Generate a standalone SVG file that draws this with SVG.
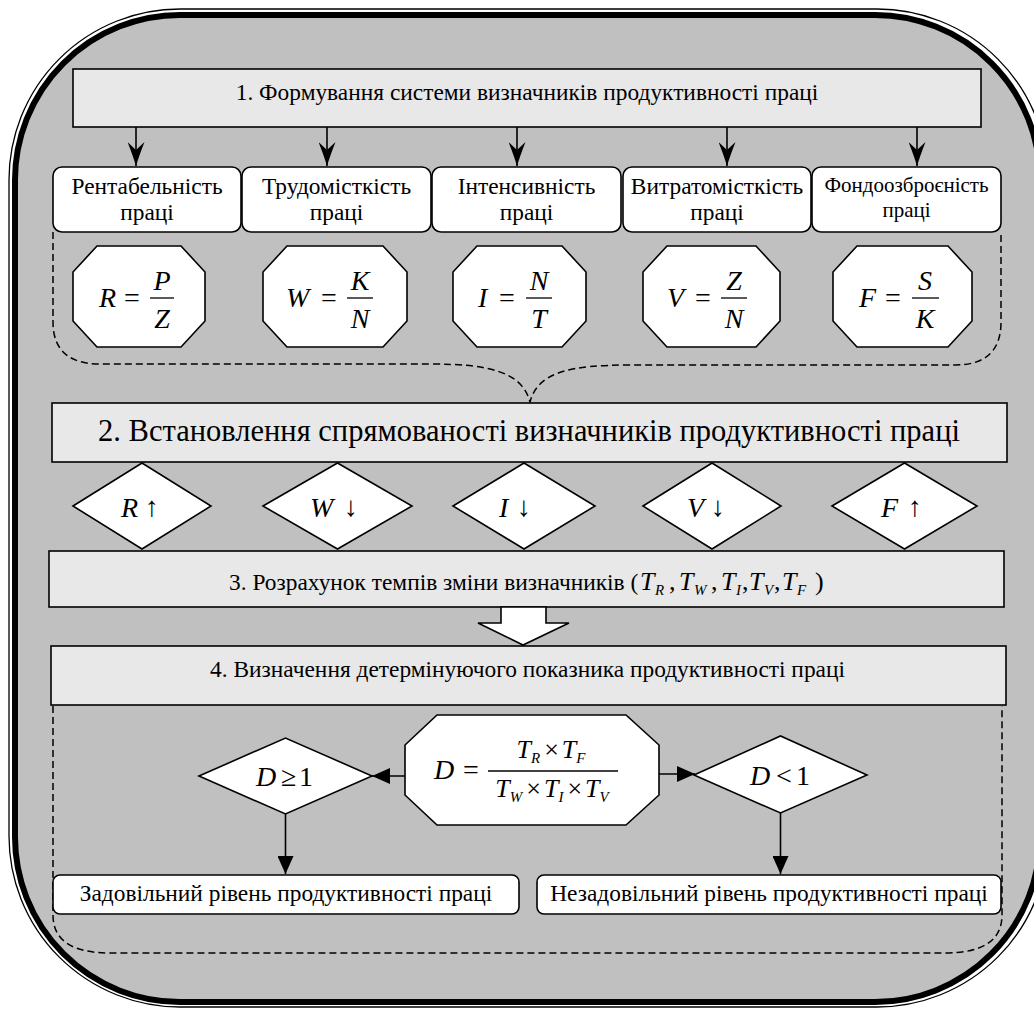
<svg xmlns="http://www.w3.org/2000/svg" width="1034" height="1010" viewBox="0 0 1034 1010">
<defs>
<style>
.s{font-family:'Liberation Serif',Tinos,'Times New Roman','DejaVu Serif',serif;fill:#000}
.ar{font-family:'Liberation Serif','DejaVu Serif','DejaVu Sans',serif;fill:#000}
.it{font-style:italic}
.f23{font-size:23.4px}
.f20{font-size:21px}
.f30{font-size:30.5px}
.f28{font-size:28px}
.f26{font-size:26px}
.f15{font-size:15px}
.box{fill:#e8e8e8;stroke:#000;stroke-width:1.6}
.wb{fill:#fff;stroke:#000;stroke-width:1.6}
.dash{fill:none;stroke:#000;stroke-width:1.5;stroke-dasharray:7 4}
.conn{fill:none;stroke:#000;stroke-width:1.6}
.bar{stroke:#000;stroke-width:1.3}
</style>
<marker id="stealth" viewBox="0 0 24 17" refX="24" refY="8.5" markerWidth="24" markerHeight="17" markerUnits="userSpaceOnUse" orient="auto">
<path d="M0,0 Q14,5.5 24,8.5 Q14,11.5 0,17 L8,8.5 Z" fill="#000"/>
</marker>
<marker id="tri" viewBox="0 0 18 16" refX="18" refY="8" markerWidth="18" markerHeight="16" markerUnits="userSpaceOnUse" orient="auto">
<path d="M0,0 L18,8 L0,16 Z" fill="#000"/>
</marker>
</defs>
<rect x="0" y="0" width="1034" height="1010" fill="#fff"/>
<g id="frame">
<rect x="9" y="9" width="1039" height="998" rx="171" fill="none" stroke="#000" stroke-width="1.3"/>
<rect x="15" y="15" width="1025" height="987" rx="165" fill="#c0c0c0" stroke="#000" stroke-width="6"/>
</g>
<g id="braces">
<path class="dash" d="M53,232 V322 Q53,364 100,364 H430 C490,364 522,372 530,402 C538,372 570,365 630,365 H955 Q1001,365 1001,322 V232"/>
<path class="dash" d="M53,706 V915 Q53,953 110,953 H945 Q1002,953 1002,915 V706"/>
</g>
<g id="step1">
<rect class="box" x="73" y="69" width="908" height="58"/>
<text class="s f23" x="527" y="100" text-anchor="middle">1. Формування системи визначників продуктивності праці</text>
</g>
<g id="box-rent">
<rect class="wb" x="53" y="167" width="188" height="65" rx="9"/>
<text class="s f23" x="147" y="194" text-anchor="middle">Рентабельність</text>
<text class="s f23" x="147" y="220" text-anchor="middle">праці</text>
</g>
<g id="box-trud">
<rect class="wb" x="242" y="167" width="189" height="65" rx="9"/>
<text class="s f23" x="336.5" y="194" text-anchor="middle">Трудомісткість</text>
<text class="s f23" x="336.5" y="220" text-anchor="middle">праці</text>
</g>
<g id="box-int">
<rect class="wb" x="432" y="167" width="189" height="65" rx="9"/>
<text class="s f23" x="526.5" y="194" text-anchor="middle">Інтенсивність</text>
<text class="s f23" x="526.5" y="220" text-anchor="middle">праці</text>
</g>
<g id="box-vytr">
<rect class="wb" x="623" y="167" width="188" height="65" rx="9"/>
<text class="s f23" x="717" y="194" text-anchor="middle">Витратомісткість</text>
<text class="s f23" x="717" y="220" text-anchor="middle">праці</text>
</g>
<g id="box-fond">
<rect class="wb" x="812" y="167" width="189" height="65" rx="9"/>
<text class="s f20" x="906.5" y="192" text-anchor="middle">Фондоозброєність</text>
<text class="s f20" x="906.5" y="217" text-anchor="middle">праці</text>
</g>
<g id="oct-R">
<polygon class="wb" points="97,246 181,246 205,272 205,321 181,347 97,347 73,321 73,272"/>
<text class="s f28 it" x="99" y="307">R</text>
<text class="s f28" x="124" y="307">=</text>
<line class="bar" x1="150" y1="298" x2="174" y2="298"/>
<text class="s f28 it" x="162" y="290" text-anchor="middle">P</text>
<text class="s f28 it" x="162" y="328" text-anchor="middle">Z</text>
</g>
<g id="oct-W">
<polygon class="wb" points="287,246 383,246 407,272 407,321 383,347 287,347 263,321 263,272"/>
<text class="s f28 it" x="286" y="307">W</text>
<text class="s f28" x="321" y="307">=</text>
<line class="bar" x1="347" y1="298" x2="373" y2="298"/>
<text class="s f28 it" x="360" y="290" text-anchor="middle">K</text>
<text class="s f28 it" x="360" y="328" text-anchor="middle">N</text>
</g>
<g id="oct-I">
<polygon class="wb" points="477,246 562,246 586,272 586,321 562,347 477,347 453,321 453,272"/>
<text class="s f28 it" x="478" y="307">I</text>
<text class="s f28" x="499" y="307">=</text>
<line class="bar" x1="526" y1="298" x2="552" y2="298"/>
<text class="s f28 it" x="539" y="290" text-anchor="middle">N</text>
<text class="s f28 it" x="539" y="328" text-anchor="middle">T</text>
</g>
<g id="oct-V">
<polygon class="wb" points="667,246 756,246 780,272 780,321 756,347 667,347 643,321 643,272"/>
<text class="s f28 it" x="667" y="307">V</text>
<text class="s f28" x="695" y="307">=</text>
<line class="bar" x1="721" y1="298" x2="747" y2="298"/>
<text class="s f28 it" x="734" y="290" text-anchor="middle">Z</text>
<text class="s f28 it" x="734" y="328" text-anchor="middle">N</text>
</g>
<g id="oct-F">
<polygon class="wb" points="857,246 948,246 972,272 972,321 948,347 857,347 833,321 833,272"/>
<text class="s f28 it" x="859" y="307">F</text>
<text class="s f28" x="885" y="307">=</text>
<line class="bar" x1="912" y1="298" x2="939" y2="298"/>
<text class="s f28 it" x="925" y="290" text-anchor="middle">S</text>
<text class="s f28 it" x="925" y="328" text-anchor="middle">K</text>
</g>
<g id="step2">
<rect class="box" x="52" y="403" width="955" height="59"/>
<text class="s f30" x="529" y="441" text-anchor="middle">2. Встановлення спрямованості визначників продуктивності праці</text>
</g>
<g id="dia-R">
<polygon class="wb" points="73,506 142,463 211,506 142,549"/>
<text class="s f28 it" x="121" y="517">R</text><text class="ar f28" x="145" y="516">↑</text>
</g>
<g id="dia-W">
<polygon class="wb" points="263,506 337.5,463 412,506 337.5,549"/>
<text class="s f28 it" x="310" y="517">W</text><text class="ar f28" x="344" y="516">↓</text>
</g>
<g id="dia-I">
<polygon class="wb" points="453,506 524,463 595,506 524,549"/>
<text class="s f28 it" x="499" y="517">I</text><text class="ar f28" x="517" y="516">↓</text>
</g>
<g id="dia-V">
<polygon class="wb" points="643,506 712,463 781,506 712,549"/>
<text class="s f28 it" x="687" y="517">V</text><text class="ar f28" x="711" y="516">↓</text>
</g>
<g id="dia-F">
<polygon class="wb" points="832,506 904.5,463 977,506 904.5,549"/>
<text class="s f28 it" x="881" y="517">F</text><text class="ar f28" x="908" y="516">↑</text>
</g>
<g id="step3">
<rect class="box" x="49" y="551" width="955" height="56"/>
<text class="s f23" x="229" y="590">3. Розрахунок темпів зміни визначників (</text>
<text class="s" y="590">
<tspan class="it f26" x="640">T</tspan><tspan class="it f15" x="655" y="595">R</tspan><tspan class="f26" x="669" y="590">,</tspan>
<tspan class="it f26" x="679">T</tspan><tspan class="it f15" x="694" y="595">W</tspan><tspan class="f26" x="711" y="590">,</tspan>
<tspan class="it f26" x="721">T</tspan><tspan class="it f15" x="736" y="595">I</tspan><tspan class="f26" x="742" y="590">,</tspan>
<tspan class="it f26" x="749">T</tspan><tspan class="it f15" x="764" y="595">V</tspan><tspan class="f26" x="774" y="590">,</tspan>
<tspan class="it f26" x="782">T</tspan><tspan class="it f15" x="797" y="595">F</tspan><tspan class="f26" x="815" y="590">)</tspan>
</text>
</g>
<g id="big-arrow">
<polygon class="wb" points="501,607 546,607 546,623 569,623 523,645 478,623 501,623"/>
</g>
<g id="step4">
<rect class="box" x="51" y="646" width="955" height="59"/>
<text class="s f23" x="527.5" y="677" text-anchor="middle">4. Визначення детермінуючого показника продуктивності праці</text>
</g>
<g id="oct-D">
<polygon class="wb" points="437,715 626,715 659,745 659,795 626,825 437,825 405,795 405,745"/>
<text class="s f28 it" x="434" y="779">D</text>
<text class="s f28" x="463" y="779">=</text>
<line class="bar" x1="488" y1="771" x2="618" y2="771"/>
<text class="s" y="758" text-anchor="middle" x="551"><tspan class="it f26">T</tspan><tspan class="it f15" dy="5">R</tspan><tspan class="f26" dy="-5" dx="4">×</tspan><tspan class="it f26" dx="3">T</tspan><tspan class="it f15" dy="5">F</tspan></text>
<text class="s" y="797" text-anchor="middle" x="552"><tspan class="it f26">T</tspan><tspan class="it f15" dy="5">W</tspan><tspan class="f26" dy="-5" dx="4">×</tspan><tspan class="it f26" dx="3">T</tspan><tspan class="it f15" dy="5">I</tspan><tspan class="f26" dy="-5" dx="4">×</tspan><tspan class="it f26" dx="3">T</tspan><tspan class="it f15" dy="5">V</tspan></text>
</g>
<g id="dia-ge">
<polygon class="wb" points="199,776 285.5,738 372,776 285.5,814"/>
<text class="s f28" y="786"><tspan class="it" x="256">D</tspan><tspan x="281">≥</tspan><tspan x="299">1</tspan></text>
</g>
<g id="dia-lt">
<polygon class="wb" points="694,775 780.5,736 867,775 780.5,813"/>
<text class="s f28" y="785"><tspan class="it" x="750">D</tspan><tspan x="776">&lt;</tspan><tspan x="796">1</tspan></text>
</g>
<g id="res-ok">
<rect class="wb" x="53" y="875" width="466" height="39" rx="7"/>
<text class="s f23" x="286" y="901" text-anchor="middle">Задовільний рівень продуктивності праці</text>
</g>
<g id="res-bad">
<rect class="wb" x="537" y="875" width="464" height="39" rx="7"/>
<text class="s f23" x="769" y="901" text-anchor="middle">Незадовільний рівень продуктивності праці</text>
</g>
<g id="connectors">
<line class="conn" x1="136" y1="127" x2="136" y2="166" marker-end="url(#stealth)"/>
<line class="conn" x1="327" y1="127" x2="327" y2="166" marker-end="url(#stealth)"/>
<line class="conn" x1="517" y1="127" x2="517" y2="166" marker-end="url(#stealth)"/>
<line class="conn" x1="727" y1="127" x2="727" y2="166" marker-end="url(#stealth)"/>
<line class="conn" x1="917" y1="127" x2="917" y2="166" marker-end="url(#stealth)"/>
<line class="conn" x1="405" y1="776" x2="372" y2="776" marker-end="url(#tri)"/>
<line class="conn" x1="659" y1="774" x2="695" y2="774" marker-end="url(#tri)"/>
<line class="conn" x1="285.5" y1="814" x2="285.5" y2="874" marker-end="url(#tri)"/>
<line class="conn" x1="780.5" y1="813" x2="780.5" y2="874" marker-end="url(#tri)"/>
</g>
</svg>
